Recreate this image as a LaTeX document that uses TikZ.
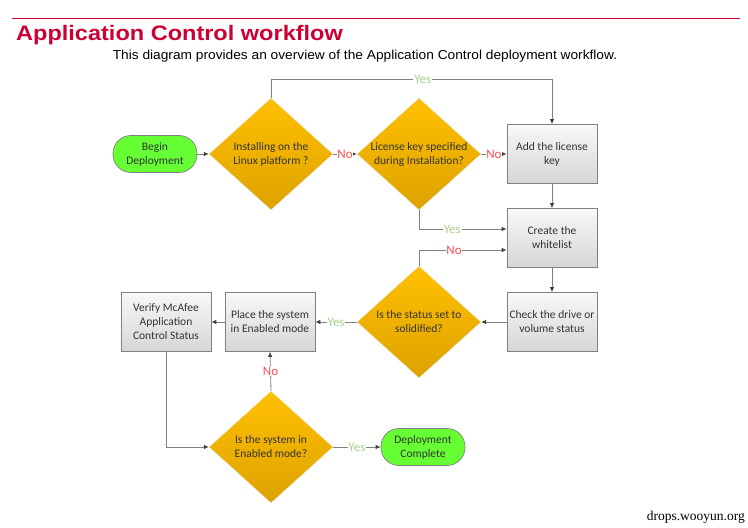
\documentclass[tikz,border=0pt]{standalone}
\usepackage{fontspec}
\setmainfont{Carlito}
\newfontfamily\titlefont{Liberation Sans}
\newfontfamily\wmfont{Liberation Serif}
\usetikzlibrary{shapes.geometric,arrows.meta}
\definecolor{crim}{HTML}{CC0033}
\definecolor{gold1}{HTML}{FFC000}
\definecolor{gold2}{HTML}{DDA200}
\definecolor{grn}{HTML}{66FF33}
\definecolor{box1}{HTML}{F8F8F8}
\definecolor{box2}{HTML}{D6D6D6}
\definecolor{lin}{HTML}{808080}
\definecolor{txt}{HTML}{333333}
\definecolor{yesc}{HTML}{A9D18E}
\definecolor{noc}{HTML}{FF5050}
\tikzset{
  basefont/.style={font=\fontsize{11.5}{14}\selectfont, text=txt, align=center},
  decision/.style={basefont, diamond, aspect=1.107, inner sep=0pt, minimum width=124pt, minimum height=112pt, top color=gold1, bottom color=gold2, draw=white!85!gray, line width=0.4pt},
  procbox/.style={basefont, rectangle, minimum width=90pt, minimum height=59pt, inner sep=1pt, top color=box1, bottom color=box2, draw=lin, line width=0.7pt},
  terminal/.style={basefont, rectangle, rounded corners=18pt, minimum width=84pt, minimum height=37pt, inner sep=1pt, fill=grn, draw=lin, line width=0.7pt},
  conn/.style={draw=lin, line width=0.8pt, -{Latex[length=5pt,width=4.5pt,color=black!75]}},
  yeslbl/.style={font=\fontsize{13}{14}\selectfont, text=yesc, fill=white, inner sep=0.8pt},
  nolbl/.style={font=\fontsize{13}{14}\selectfont, text=noc, fill=white, inner sep=0.8pt},
}
\begin{document}
\begin{tikzpicture}[x=1pt,y=-1pt]
\useasboundingbox[fill=white] (0,0) rectangle (748,528);
% header
\draw[crim, line width=0.8pt] (12,18) -- (740,18);
\node[anchor=base west, inner sep=0pt, text=crim, font=\titlefont\bfseries\fontsize{21}{24}\selectfont] (title) at (16,40) {\scalebox{1.12}[1]{Application Control workflow}};
\node[anchor=base, inner sep=0pt, font=\titlefont\fontsize{13}{15}\selectfont] (subtitle) at (365,59) {\scalebox{1.056}[1]{This diagram provides an overview of the Application Control deployment workflow.}};
% nodes
\node[terminal] (begin) at (155,154) {Begin\\Deployment};
\node[decision] (d1) at (271,154) {Installing on the\\Linux platform ?};
\node[decision] (d2) at (419,154) {License key specified\\during Installation?};
\node[procbox] (add) at (552,154) {Add the license\\key};
\node[procbox] (create) at (552,238) {Create the\\whitelist};
\node[procbox] (check) at (552,322) {Check the drive or\\volume status};
\node[decision] (d3) at (419,322) {Is the status set to\\solidified?};
\node[procbox] (place) at (270,322) {Place the system\\in Enabled mode};
\node[procbox] (verify) at (166,322) {Verify McAfee\\Application\\Control Status};
\node[decision] (d4) at (271,447) {Is the system  in\\Enabled mode?};
\node[terminal] (done) at (423,447) {Deployment\\Complete};
% connectors
\draw[conn] (begin) -- (d1);
\draw[conn] (d1.east) -- node[nolbl]{No} (d2.west);
\draw[conn] (d2.east) -- node[nolbl]{No} (add.west);
\draw[conn] (d1.north) -- ++(0,-18) -| node[pos=0.27, yeslbl]{Yes} (add.north);
\draw[conn] (add) -- (create);
\draw[conn] (d2.south) |- node[pos=0.69, yeslbl]{Yes} ([yshift=9pt]create.west);
\draw[conn] (d3.north) |- node[pos=0.70, nolbl]{No} ([yshift=-12pt]create.west);
\draw[conn] (create) -- (check);
\draw[conn] (check) -- (d3);
\draw[conn] (d3.west) -- node[yeslbl]{Yes} (place.east);
\draw[conn] (place) -- (verify);
\draw[conn] (verify.south) |- (d4.west);
\draw[conn] (d4.north) -- node[nolbl]{No} (place.south);
\draw[conn] (d4.east) -- node[yeslbl]{Yes} (done.west);
% watermark
\node[anchor=base east, inner sep=0pt, font=\wmfont\fontsize{13.5}{15}\selectfont] (wm) at (745,520) {drops.wooyun.org};
\end{tikzpicture}
\end{document}
